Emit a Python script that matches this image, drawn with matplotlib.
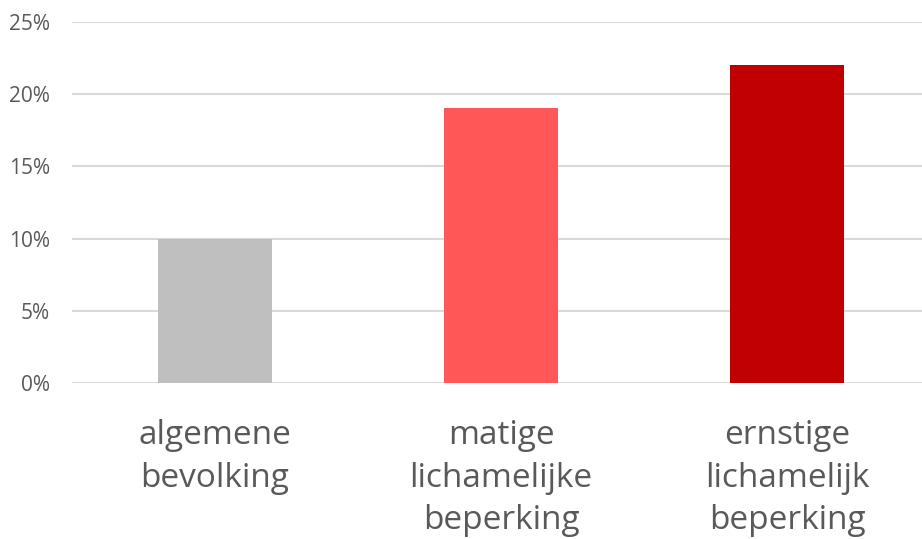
import matplotlib.pyplot as plt
import numpy as np

categories = ["algemene\nbevolking", "matige\nlichamelijke\nbeperking", "ernstige\nlichamelijk\nbeperking"]
values = [10, 19, 22]
colors = ["#BFBFBF", "#FF5757", "#C00000"]
yticks = [0, 5, 10, 15, 20, 25]

plt.rcParams['font.family'] = ['Open Sans', 'DejaVu Sans']

fig = plt.figure(figsize=(9.22, 5.39), dpi=100)
ax = fig.add_axes([72 / 922, 155.7 / 539, 850 / 922, 361.6 / 539])

x = np.arange(len(categories))
ax.bar(x, values, width=0.4, color=colors, zorder=3)

ax.set_ylim(0, 25)
ax.set_xlim(-0.5, -0.5 + 850 / 286)
ax.set_yticks(yticks)
ax.set_yticklabels([f"{v}%" for v in yticks])
ax.yaxis.grid(True, color="#D9D9D9", linewidth=1.5, zorder=0)
ax.set_axisbelow(True)

ax.set_xticks(x)
ax.set_xticklabels(categories, fontsize=24, color="#595959", linespacing=1.38)
ax.tick_params(axis="x", length=0, pad=26)
ax.tick_params(axis="y", length=0, pad=16, labelsize=15, labelcolor="#595959")

for s in ax.spines.values():
    s.set_visible(False)

fig.savefig("out.png", dpi=100)
